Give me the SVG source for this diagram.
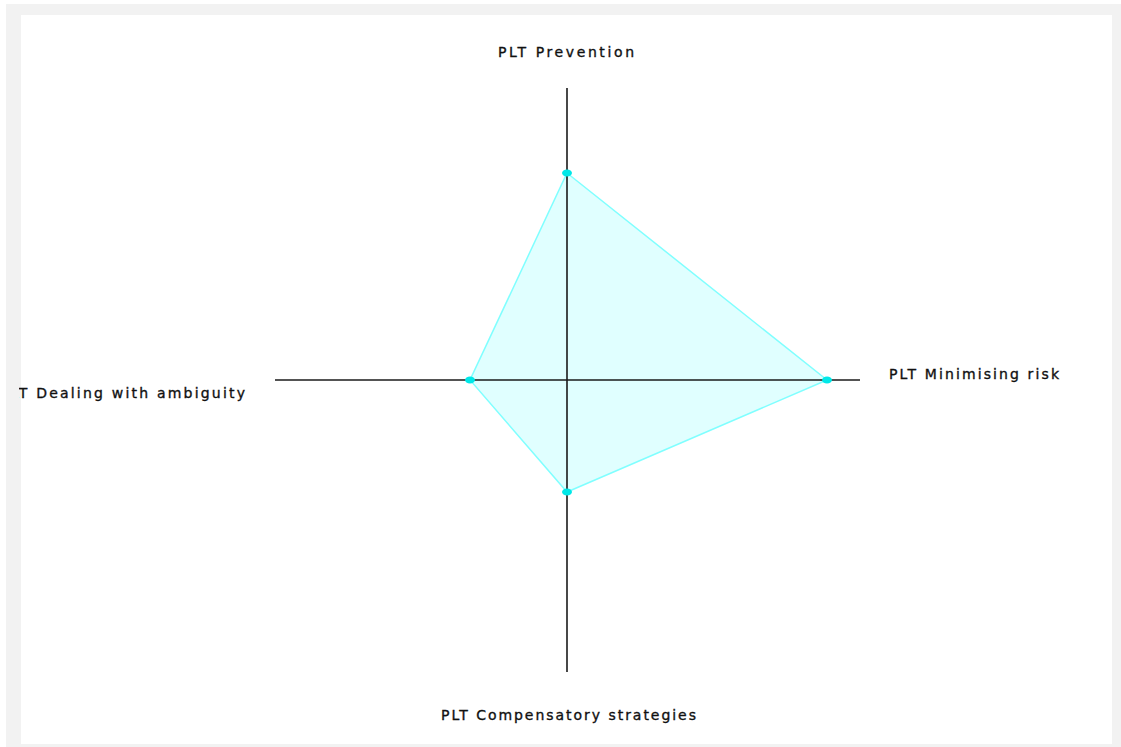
<svg xmlns="http://www.w3.org/2000/svg" width="1121" height="747" viewBox="0 0 1121 747">
<style>
.lbl{font-family:"DejaVu Sans","Liberation Sans",sans-serif;font-size:14px;fill:#111;stroke:#111;stroke-width:0.35;}
.axis{stroke:#1a1a1a;stroke-width:1.6;fill:none;}
.area{fill:#e0ffff;stroke:#80ffff;stroke-width:1.5;}
.dot{fill:#00e8e8;}
</style>
<defs>
<clipPath id="inner"><rect x="19" y="15" width="1093" height="729"/></clipPath>
</defs>
<rect x="0" y="0" width="1121" height="747" fill="#ffffff"/>
<rect x="6" y="4" width="1115" height="743" fill="#f2f2f2"/>
<rect x="21" y="15" width="1091" height="729" fill="#ffffff"/>
<g clip-path="url(#inner)">
<g id="series">
<polygon class="area" points="567,173 827,380 567,492 470,380"/>
</g>
<g id="axes">
<line class="axis" x1="567" y1="88" x2="567" y2="672"/>
<line class="axis" x1="275" y1="380" x2="860" y2="380"/>
</g>
<g id="points">
<ellipse class="dot" cx="567" cy="173" rx="5" ry="3.5"/>
<ellipse class="dot" cx="827" cy="380" rx="5" ry="3.5"/>
<ellipse class="dot" cx="567" cy="492" rx="5" ry="3.5"/>
<ellipse class="dot" cx="470" cy="380" rx="5" ry="3.5"/>
</g>
<g id="labels">
<text id="lbl-prevention" class="lbl" x="498" y="57" textLength="136" lengthAdjust="spacing">PLT Prevention</text>
<text id="lbl-minimising" class="lbl" x="889" y="379" textLength="170" lengthAdjust="spacing">PLT Minimising risk</text>
<text id="lbl-dealing" class="lbl" x="0" y="398" textLength="245" lengthAdjust="spacing">PLT Dealing with ambiguity</text>
<text id="lbl-compensatory" class="lbl" x="441" y="720" textLength="255" lengthAdjust="spacing">PLT Compensatory strategies</text>
</g>
</g>
</svg>
